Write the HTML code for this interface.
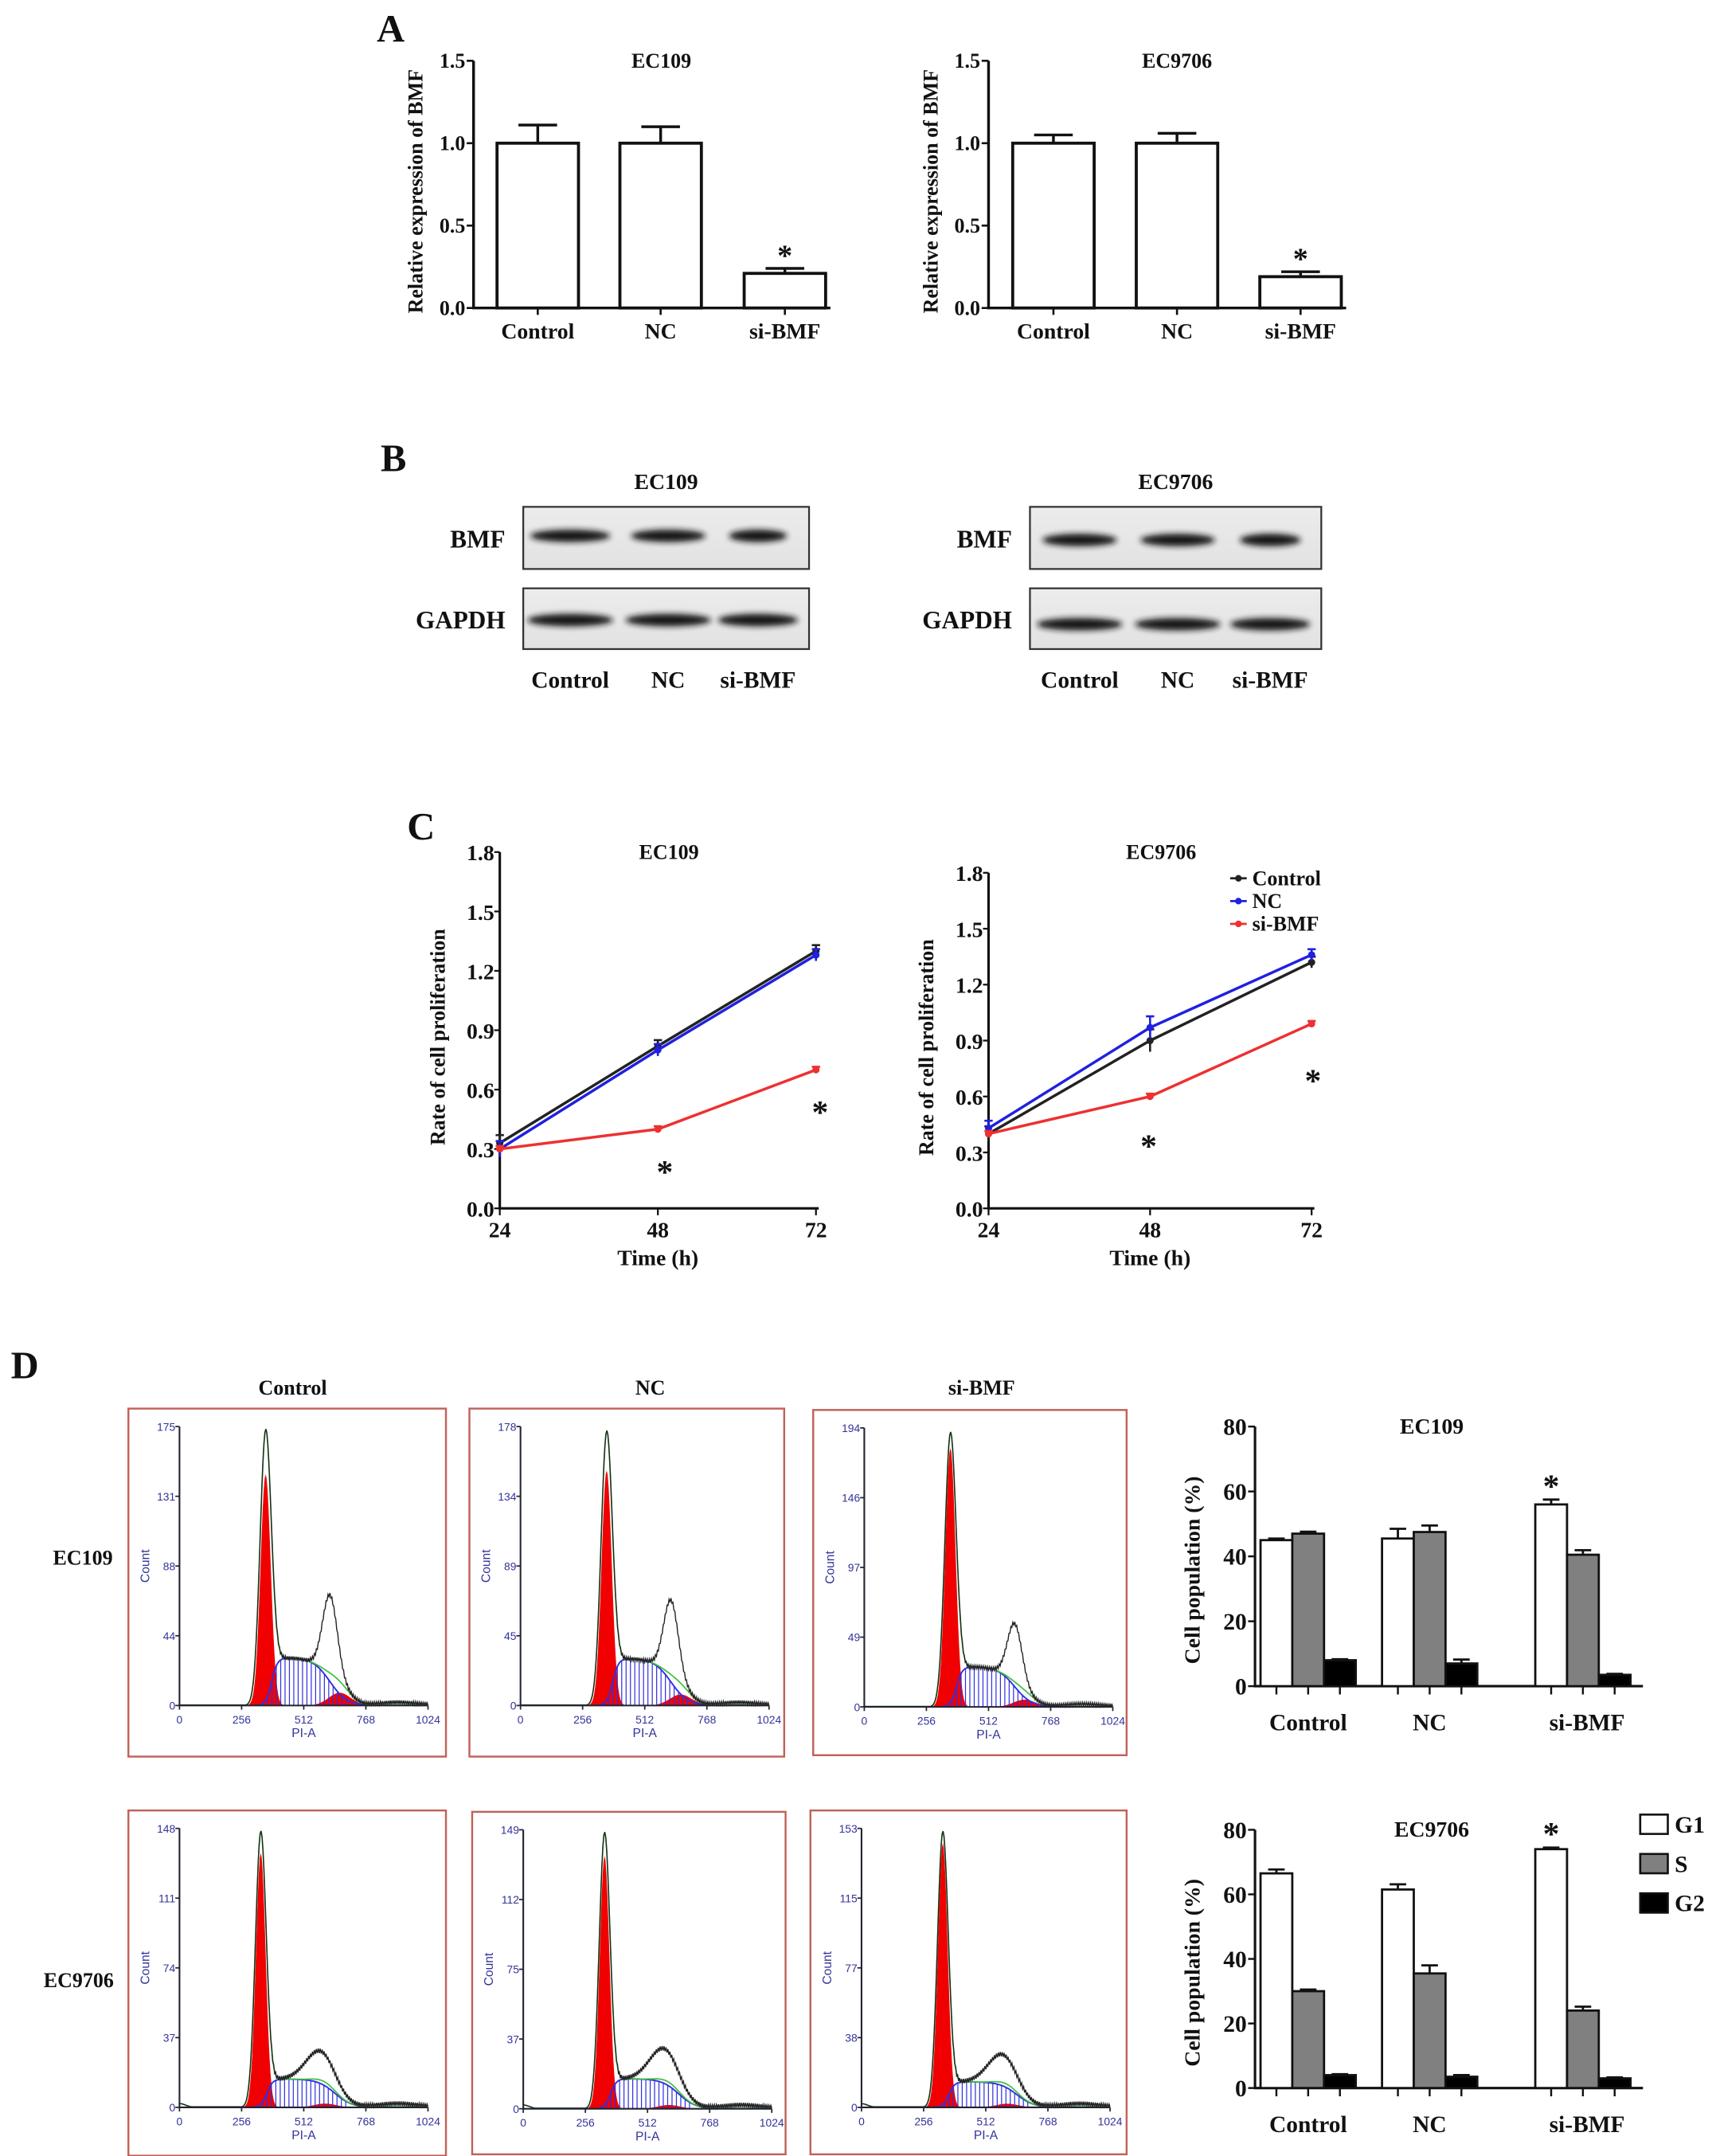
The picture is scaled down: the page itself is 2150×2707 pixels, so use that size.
<!DOCTYPE html>
<html><head><meta charset="utf-8"><style>
html,body{margin:0;padding:0;background:#fff;}
svg{display:block;}
.t{font-family:"Liberation Serif",serif;font-weight:bold;fill:#111;}
.f{font-family:"Liberation Sans",sans-serif;fill:#33339a;}
</style></head><body>
<svg id="fig" xmlns="http://www.w3.org/2000/svg" width="2150" height="2707" viewBox="0 0 1240 1561.2">
<defs>
<filter id="blur" x="-20%" y="-100%" width="140%" height="300%"><feGaussianBlur stdDeviation="2.2"/></filter>
<linearGradient id="blotbg" x1="0" y1="0" x2="0" y2="1"><stop offset="0" stop-color="#ececec"/><stop offset="1" stop-color="#e2e2e2"/></linearGradient>
</defs>
<rect width="1240" height="1561.2" fill="#fff"/>
<g id="root"></g>
</svg>
<script>
// ---------- Panel A data ----------
const aCats = ['Control', 'NC', 'si-BMF'];
const aTicks = [0, 0.5, 1.0, 1.5];
const aEC109 = [1.0, 1.0, 0.21];
const aEC109Err = [0.11, 0.10, 0.03];
const aEC9706 = [1.0, 1.0, 0.19];
const aEC9706Err = [0.05, 0.06, 0.03];
const aSig = [false, false, true];
// ---------- Panel C data ----------
const cTimes = [24, 48, 72];
const cTicks = [0, 0.3, 0.6, 0.9, 1.2, 1.5, 1.8];
const cSeriesNames = ['Control', 'NC', 'si-BMF'];
const cEC109Control = [0.33, 0.82, 1.30];
const cEC109NC = [0.30, 0.80, 1.28];
const cEC109Si = [0.30, 0.40, 0.70];
const cEC109Err = [0.04, 0.03, 0.03];
const cEC9706Control = [0.40, 0.90, 1.32];
const cEC9706NC = [0.43, 0.97, 1.36];
const cEC9706Si = [0.40, 0.60, 0.99];
const cEC9706Err = [0.04, 0.06, 0.03];
// ---------- Panel D bar data ----------
const dPhases = ['G1', 'S', 'G2'];
const dTicks = [0, 20, 40, 60, 80];
const dEC109G1 = [45, 45.5, 56];
const dEC109S = [47, 47.5, 40.5];
const dEC109G2 = [8, 7, 3.5];
const dEC109G1Err = [0.5, 3, 1.5];
const dEC109SErr = [0.6, 2, 1.4];
const dEC109G2Err = [0.3, 1.2, 0.3];
const dEC9706G1 = [66.5, 61.5, 74];
const dEC9706S = [30, 35.5, 24];
const dEC9706G2 = [4, 3.5, 3];
const dEC9706G1Err = [1.2, 1.6, 0.5];
const dEC9706SErr = [0.5, 2.5, 1.2];
const dEC9706G2Err = [0.3, 0.5, 0.3];
// ---------- Panel D flow histograms (count scale maxima and fitted peak heights) ----------
const flowTickMax = [[175, 178, 194], [148, 149, 153]];
const flowG1Peak = [[170, 172, 188], [145, 146, 150]];
const flowG1Red = [[145, 150, 180], [135, 135, 145]];
const flowSLevel = [[30, 30, 28], [15, 16, 14]];
const flowG2Black = [[70, 68, 58], [22, 24, 22]];
const flowG2Red = [[8, 7, 5], [2, 2, 2]];

const NS = 'http://www.w3.org/2000/svg';
const root = document.getElementById('root');
function mk(tag, attrs, parent) {
  const e = document.createElementNS(NS, tag);
  for (const k in attrs) e.setAttribute(k, attrs[k]);
  (parent || root).appendChild(e);
  return e;
}
function txt(s, x, y, size, cls, anchor, parent) {
  const e = mk('text', {x: x, y: y, 'font-size': size, class: cls || 't', 'text-anchor': anchor || 'middle'}, parent);
  e.textContent = s;
  return e;
}

// ---------- Panel letters ----------
[['A', 283, 30], ['B', 285, 341], ['C', 305, 608], ['D', 18, 998]].forEach(function (p) {
  const e = txt(p[0], p[1], p[2], 28, 't', 'middle');
  
  
});

// ---------- Panel A bar charts ----------
function barChartA(ax, y0, yTop, vals, errs, centers, title, key) {
  const g = mk('g', {});
  
  
  const ys = v => y0 - (v / 1.5) * (y0 - yTop);
  const ax1 = mk('path', {d: `M${ax},${yTop} V${y0} H${centers[2] + 33}`, stroke: '#111', 'stroke-width': 2, fill: 'none'}, g);
  
  
  aTicks.forEach(function (t) {
    const y = ys(t);
    mk('line', {x1: ax - 5, x2: ax, y1: y, y2: y, stroke: '#111', 'stroke-width': 1.5}, g);
    const l = txt(t.toFixed(1), ax - 6, y + 5, 15, 't', 'end', g);
    
    
  });
  vals.forEach(function (v, i) {
    const c = centers[i];
    mk('line', {x1: c, x2: c, y1: y0, y2: y0 + 5, stroke: '#111', 'stroke-width': 1.5}, g);
    const eb = mk('path', {d: `M${c},${ys(v)} V${ys(v + errs[i])} M${c - 14},${ys(v + errs[i])} H${c + 14}`, stroke: '#111', 'stroke-width': 2, fill: 'none'}, g);
    
    
    const b = mk('rect', {x: c - 29.5, y: ys(v), width: 59, height: y0 - ys(v), fill: '#fff', stroke: '#111', 'stroke-width': 2.2}, g);
    
    
    const l = txt(aCats[i], c, y0 + 22, 16, 't', 'middle', g);
    
    
    if (aSig[i]) {
      const s = txt('*', c, ys(v + errs[i]) - 2, 22, 't', 'middle', g);
      
      
    }
  });
  const tt = txt(title, (centers[0] + centers[2]) / 2, yTop + 5, 15, 't', 'middle', g);
  
  
  const yt = txt('Relative expression of BMF', 0, 0, 15, 't', 'middle', g);
  yt.setAttribute('transform', `translate(${ax - 37},${(y0 + yTop) / 2 + 5}) rotate(-90)`);
  
  
}
barChartA(343, 223, 44, aEC109, aEC109Err, [389.5, 478.5, 568.5], 'EC109', 'a-ec109');
barChartA(716, 223, 44, aEC9706, aEC9706Err, [763, 852.5, 942], 'EC9706', 'a-ec9706');

// ---------- Panel B blots ----------
function blot(x, w, title, lanes, lblX, bmfY, gY, bmfW, key) {
  const g = mk('g', {});
  
  
  const t = txt(title, x + w / 2, 354, 16, 't', 'middle', g);
  
  
  [[367, 412, 'BMF', bmfY, bmfW], [426, 470, 'GAPDH', gY, [62, 62, 58]]].forEach(function (r) {
    const box = mk('rect', {x: x, y: r[0], width: w, height: r[1] - r[0], fill: 'url(#blotbg)', stroke: '#333', 'stroke-width': 1.3}, g);
    
    
    lanes.forEach(function (lx, i) {
      const b = mk('ellipse', {cx: lx, cy: r[3], rx: r[4][i] / 2, ry: 4.5, fill: '#151515', filter: 'url(#blur)'}, g);
      
      
    });
    const l = txt(r[2], lblX, (r[0] + r[1]) / 2 + 7, 18, 't', 'end', g);
    
    
  });
  aCats.forEach(function (c, i) {
    const l = txt(c, lanes[i], 498, 17, 't', 'middle', g);
    
    
  });
}
blot(379, 207, 'EC109', [413, 484, 549], 366, 388, 449, [58, 54, 42], 'ec109');
blot(746, 211, 'EC9706', [782, 853, 920], 733, 391, 452, [54, 54, 44], 'ec9706');

// ---------- Panel C line charts ----------
const cColors = ['#222', '#2020e0', '#ee3030'];
function lineChart(ax, xEnd, y0, yTop, series, err, title, legend, stars, key) {
  const g = mk('g', {});
  
  
  const xs = t => ax + (t - 24) / 48 * (xEnd - ax);
  const ys = v => y0 - v / 1.8 * (y0 - yTop);
  const a = mk('path', {d: `M${ax},${yTop} V${y0} H${xEnd + 2}`, stroke: '#111', 'stroke-width': 1.8, fill: 'none'}, g);
  
  
  cTicks.forEach(function (t) {
    const y = ys(t);
    mk('line', {x1: ax - 4, x2: ax, y1: y, y2: y, stroke: '#111', 'stroke-width': 1.3}, g);
    const l = txt(t.toFixed(1), ax - 4, y + 6, 16, 't', 'end', g);
    
    
  });
  cTimes.forEach(function (t) {
    mk('line', {x1: xs(t), x2: xs(t), y1: y0, y2: y0 + 5, stroke: '#111', 'stroke-width': 1.3}, g);
    const l = txt(String(t), xs(t), y0 + 21, 16, 't', 'middle', g);
    
    
  });
  series.forEach(function (s, k) {
    const d = s.map((v, i) => (i ? 'L' : 'M') + xs(cTimes[i]) + ',' + ys(v)).join(' ');
    const p = mk('path', {d: d, stroke: cColors[k], 'stroke-width': 2, fill: 'none'}, g);
    
    
    s.forEach(function (v, i) {
      const e = k === 2 ? 0.015 : err[i];
      mk('path', {d: `M${xs(cTimes[i])},${ys(v - e)} V${ys(v + e)} M${xs(cTimes[i]) - 3},${ys(v + e)} H${xs(cTimes[i]) + 3}`, stroke: cColors[k], 'stroke-width': 1.5, fill: 'none'}, g);
      const m = mk('circle', {cx: xs(cTimes[i]), cy: ys(v), r: 2.6, fill: cColors[k]}, g);
      
      
    });
  });
  stars.forEach(function (st) {
    const s = txt('*', xs(st[0]) + st[1], ys(st[2]) + 10, 24, 't', 'middle', g);
    
    
  });
  const tt = txt(title, (ax + xEnd) / 2 + 8, 622, 15, 't', 'middle', g);
  
  
  const xt = txt('Time (h)', (ax + xEnd) / 2, 916, 16, 't', 'middle', g);
  
  
  const yt = txt('Rate of cell proliferation', 0, 0, 15, 't', 'middle', g);
  yt.setAttribute('transform', `translate(${ax - 40},${(y0 + yTop) / 2 + 5}) rotate(-90)`);
  
  
  if (legend) {
    cSeriesNames.forEach(function (n, k) {
      const y = 636 + k * 16.5;
      const lg = mk('g', {}, g);
      
      
      mk('line', {x1: 891, x2: 903, y1: y, y2: y, stroke: cColors[k], 'stroke-width': 1.6}, lg);
      mk('circle', {cx: 897, cy: y, r: 2.4, fill: cColors[k]}, lg);
      txt(n, 907, y + 5, 15, 't', 'start', lg);
    });
  }
}
lineChart(362, 591, 875, 617, [cEC109Control, cEC109NC, cEC109Si], cEC109Err, 'EC109', false, [[48, 5, 0.2], [72, 3, 0.5]], 'c-ec109');
lineChart(716, 950, 875, 632, [cEC9706Control, cEC9706NC, cEC9706Si], cEC9706Err, 'EC9706', true, [[48, -1, 0.35], [72, 1, 0.7]], 'c-ec9706');

// ---------- Panel D headers ----------
[['Control', 212], ['NC', 471], ['si-BMF', 711]].forEach(function (h) {
  const e = txt(h[0], h[1], 1010, 15, 't', 'middle');
  
  
});
[['EC109', 60, 1133], ['EC9706', 57, 1439]].forEach(function (h) {
  const e = txt(h[0], h[1], h[2], 15, 't', 'middle');
  
  
});

// ---------- Flow histograms ----------
function gauss(x, m, s) { return Math.exp(-0.5 * ((x - m) / s) * ((x - m) / s)); }
function flow(bx, by, bw, bh, row, col) {
  const g = mk('g', {});
  
  
  const box = mk('rect', {x: bx, y: by, width: bw, height: bh, fill: '#fff', stroke: '#c0625a', 'stroke-width': 1.4}, g);
  
  
  const x0 = bx + 37, x1 = bx + 217, yb = by + 215, yt = by + 13;
  const max = flowTickMax[row][col];
  const X = c => x0 + c / 1024 * (x1 - x0);
  const Y = v => yb - v / max * (yb - yt);
  const G1m = row ? 335 : 355, G1s = row ? 20 : 21;
  const Sl = flowSLevel[row][col], G2b = flowG2Black[row][col], G2r = flowG2Red[row][col];
  const sCurve = c => Sl * (1 / (1 + Math.exp(-(c - G1m - 25) / 12))) * (1 / (1 + Math.exp((c - (row ? 640 : 620)) / 35)));
  // red G1
  let d = `M${X(G1m - 80)},${yb}`;
  for (let c = G1m - 80; c <= G1m + 80; c += 4) d += ` L${X(c)},${Y(flowG1Red[row][col] * gauss(c, G1m, G1s))}`;
  d += ` L${X(G1m + 80)},${yb} Z`;
  const r1 = mk('path', {d: d, fill: '#f00000'}, g);
  
  
  // red G2
  const g2m = row ? 600 : 660;
  d = `M${X(g2m - 120)},${yb}`;
  for (let c = g2m - 120; c <= g2m + 120; c += 6) d += ` L${X(c)},${Y(G2r * gauss(c, g2m, 45))}`;
  d += ` L${X(g2m + 120)},${yb} Z`;
  const r2 = mk('path', {d: d, fill: '#f00000'}, g);
  
  
  // blue S with hatch
  d = '';
  for (let c = G1m - 40; c <= 800; c += 5) d += (d ? ' L' : 'M') + X(c) + ',' + Y(sCurve(c));
  const sp = mk('path', {d: d, fill: 'none', stroke: '#3030e0', 'stroke-width': 1.1}, g);
  
  
  for (let c = G1m - 10; c <= 700; c += 18) {
    mk('line', {x1: X(c), x2: X(c), y1: yb, y2: Y(sCurve(c)), stroke: '#3030e0', 'stroke-width': 0.7}, g);
  }
  // green envelope
  const env = c => flowG1Peak[row][col] * gauss(c, G1m, G1s + 2) + sCurve(c) + G2r * gauss(c, g2m, 45) + (row ? 2 * gauss(c, 0, 25) * (col < 2 ? 1 : 1) : 0);
  d = '';
  for (let c = 0; c <= 1024; c += 4) d += (d ? ' L' : 'M') + X(c) + ',' + Y(Math.max(env(c), 0.3));
  const gp = mk('path', {d: d, fill: 'none', stroke: '#40c040', 'stroke-width': 1}, g);
  
  
  // black data
  const dat = c => env(c) + G2b * gauss(c, g2m - (row ? 20 : 40), row ? 60 : 30) * 0.7 + 2 * gauss(c, 900, 80) + (row ? 0 : 0);
  d = '';
  for (let c = 0; c <= 1024; c += 4) d += (d ? ' L' : 'M') + X(c) + ',' + Y(Math.max(dat(c) + ((c / 4) % 2 ? 1.2 : -1.2) * (c > G1m + 40 ? 1 : 0), 0.3));
  const bp = mk('path', {d: d, fill: 'none', stroke: '#222', 'stroke-width': 0.8}, g);
  
  
  // axes
  mk('path', {d: `M${x0},${yt} V${yb} H${x1}`, stroke: '#223', 'stroke-width': 1.2, fill: 'none'}, g);
  for (let k = 0; k <= 4; k++) {
    const v = Math.round(max * k / 4);
    const y = Y(max * k / 4);
    mk('line', {x1: x0 - 3, x2: x0, y1: y, y2: y, stroke: '#223', 'stroke-width': 1}, g);
    const l = txt(String(v), x0 - 3, y + 3, 8, 'f', 'end', g);
    
    
    const c = 256 * k;
    mk('line', {x1: X(c), x2: X(c), y1: yb, y2: yb + 3, stroke: '#223', 'stroke-width': 1}, g);
    const lx = txt(String(c), X(c), yb + 13, 8, 'f', 'middle', g);
    
    
  }
  const xl = txt('PI-A', (x0 + x1) / 2, yb + 23, 9, 'f', 'middle', g);
  
  
  const yl = txt('Count', 0, 0, 9, 'f', 'middle', g);
  yl.setAttribute('transform', `translate(${x0 - 22},${(yb + yt) / 2}) rotate(-90)`);
  
  
}
flow(93, 1020, 230, 252, 0, 0);
flow(340, 1020, 228, 252, 0, 1);
flow(589, 1021, 227, 250, 0, 2);
flow(93, 1311, 230, 250, 1, 0);
flow(342, 1312, 227, 248, 1, 1);
flow(587, 1311, 229, 249, 1, 2);

// ---------- Panel D bar charts ----------
const dFills = ['#fff', '#808080', '#000'];
function barChartD(ax, y0, yTop, series, errs, title, legend, key) {
  const g = mk('g', {});
  
  
  const ys = v => y0 - v / 80 * (y0 - yTop);
  const starts = [913, 1001, 1112];
  const bw = 23;
  const a = mk('path', {d: `M${ax},${yTop} V${y0} H${1190}`, stroke: '#111', 'stroke-width': 1.8, fill: 'none'}, g);
  
  
  dTicks.forEach(function (t) {
    const y = ys(t);
    mk('line', {x1: ax - 5, x2: ax, y1: y, y2: y, stroke: '#111', 'stroke-width': 1.4}, g);
    const l = txt(String(t), ax - 6, y + 6, 17, 't', 'end', g);
    
    
  });
  aCats.forEach(function (c, i) {
    series.forEach(function (s, k) {
      const x = starts[i] + k * bw;
      const v = s[i], e = errs[k][i];
      mk('path', {d: `M${x + bw / 2},${ys(v)} V${ys(v + e)} M${x + bw / 2 - 6},${ys(v + e)} H${x + bw / 2 + 6}`, stroke: '#111', 'stroke-width': 1.6, fill: 'none'}, g);
      const b = mk('rect', {x: x, y: ys(v), width: bw, height: y0 - ys(v), fill: dFills[k], stroke: '#111', 'stroke-width': 1.6}, g);
      
      
      mk('line', {x1: x + bw / 2, x2: x + bw / 2, y1: y0, y2: y0 + 6, stroke: '#111', 'stroke-width': 1.4}, g);
    });
    const l = txt(c, starts[i] + 1.5 * bw + (i === 2 ? 3 : 0), y0 + 32, 17, 't', 'middle', g);
    
    
  });
  const st = txt('*', starts[2] + bw / 2, ys(series[0][2] + errs[0][2]) - 2, 24, 't', 'middle', g);
  
  
  const tt = txt(title, 1037, yTop + 5, 16, 't', 'middle', g);
  
  
  const yt = txt('Cell population (%)', 0, 0, 16, 't', 'middle', g);
  yt.setAttribute('transform', `translate(${ax - 40},${(y0 + yTop) / 2 + 10}) rotate(-90)`);
  
  
  if (legend) {
    dPhases.forEach(function (p, k) {
      const y = 1314 + k * 28.5;
      const lg = mk('g', {}, g);
      
      
      mk('rect', {x: 1188, y: y, width: 20, height: 14, fill: dFills[k], stroke: '#111', 'stroke-width': 1.5}, lg);
      txt(p, 1213, y + 13, 17, 't', 'start', lg);
    });
  }
}
barChartD(909, 1221, 1033, [dEC109G1, dEC109S, dEC109G2], [dEC109G1Err, dEC109SErr, dEC109G2Err], 'EC109', false, 'ec109');
barChartD(909, 1512, 1325, [dEC9706G1, dEC9706S, dEC9706G2], [dEC9706G1Err, dEC9706SErr, dEC9706G2Err], 'EC9706', true, 'ec9706');
</script>
</body></html>
